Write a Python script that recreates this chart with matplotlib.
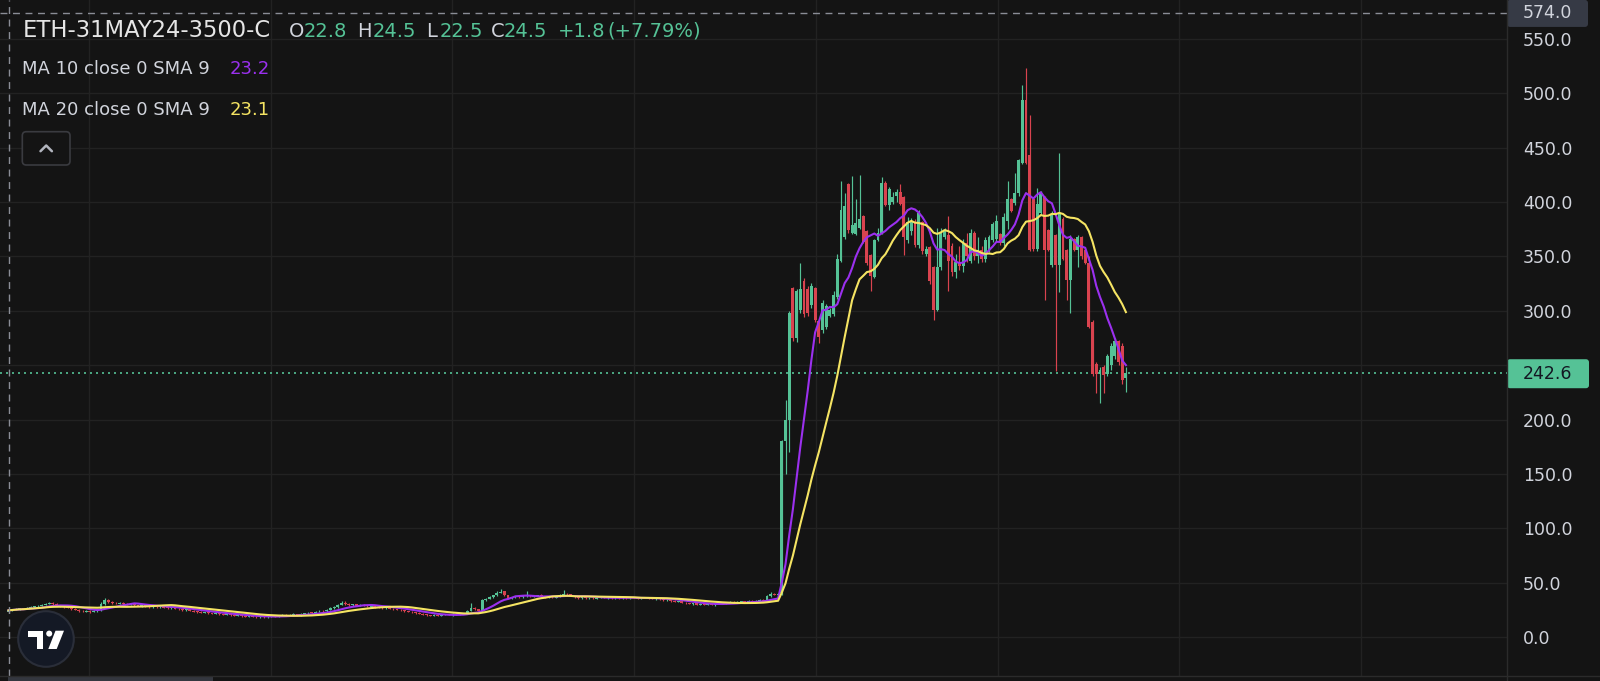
import numpy as np
import pandas as pd
import matplotlib
matplotlib.use("Agg")
import matplotlib.pyplot as plt
from matplotlib.patches import Rectangle, FancyBboxPatch, Circle, Polygon

W, H = 1600, 681

# ---- candles (ETH-31MAY24-3500-C) ----
# quiet stretch before the jump
flat_open = [22.8, 24.4, 25.1, 25.7, 26.3, 26.1, 27.0, 27.6, 28.1, 28.8,
             29.7, 30.3, 31.3, 30.0, 29.1, 28.5, 27.1, 26.9, 25.5, 25.0,
             24.1, 23.4, 24.3, 23.0, 23.7, 24.6, 30.3, 33.9, 32.1, 31.1,
             30.7, 31.6, 30.1, 29.5, 30.2, 29.1, 28.5, 29.0, 27.9, 27.5,
             28.4, 27.3, 27.9, 27.1, 26.5, 27.3, 26.0, 25.5, 24.7, 25.3,
             24.1, 23.5, 23.1, 22.3, 22.9, 21.8, 21.4, 21.9, 20.8, 20.3,
             20.9, 20.0, 19.5, 20.0, 19.1, 18.7, 19.2, 18.4, 18.1, 18.7,
             18.0, 18.8, 19.5, 18.9, 19.9, 20.4, 19.6, 20.6, 21.0, 20.1,
             21.1, 21.7, 22.6, 21.8, 23.5, 24.3, 23.5, 25.2, 26.2, 27.6,
             29.7, 31.7, 30.1, 29.3, 29.9, 28.8, 29.4, 28.5, 28.0, 28.6,
             27.5, 27.2, 26.4, 27.0, 25.9, 25.5, 24.9, 24.7, 23.8, 23.3,
             22.5, 22.1, 21.2, 20.7, 20.0, 19.5, 20.1, 19.4, 20.3, 20.9,
             20.2, 21.1, 20.5, 21.3, 21.5, 24.1, 27.1, 25.4, 24.0, 33.9,
             35.1, 36.7, 38.3, 40.5, 41.9, 38.3, 35.5, 36.5, 37.3, 36.7,
             37.7, 38.2, 37.2, 38.0, 38.5, 36.9, 36.2, 37.0, 36.3, 37.3,
             38.5, 39.9, 39.1, 38.1, 36.5, 35.7, 36.6, 35.5, 36.3, 35.3,
             36.1, 36.8, 35.8, 36.5, 35.7, 36.4, 35.4, 36.2, 35.6, 36.5,
             35.8, 35.1, 35.9, 36.3, 35.3, 34.9, 35.6, 34.5, 33.7, 34.3,
             33.0, 32.3, 32.9, 31.5, 31.1, 30.3, 31.0, 29.7, 30.4, 29.5,
             30.3, 29.4, 30.7, 31.3, 30.7, 31.7, 32.2, 31.4, 32.4, 32.9,
             32.1, 33.2, 32.5, 33.5, 34.1, 33.6, 37.4, 39.7, 38.7]
flat_high = [24.5, 25.6, 26.4, 26.9, 26.8, 27.9, 28.2, 28.6, 29.7, 30.3,
             31.4, 32.0, 31.9, 30.8, 29.7, 29.3, 27.8, 27.5, 26.2, 25.4,
             24.6, 24.8, 24.9, 24.4, 25.2, 31.8, 36.2, 34.6, 32.9, 31.8,
             32.3, 32.2, 30.8, 30.9, 30.7, 29.8, 29.6, 29.5, 28.6, 29.0,
             28.9, 28.5, 28.4, 27.7, 27.9, 27.8, 26.7, 26.1, 25.9, 25.8,
             24.7, 24.0, 23.6, 23.4, 23.5, 22.4, 22.3, 22.4, 21.4, 21.5,
             21.4, 20.6, 20.5, 20.5, 19.7, 19.8, 19.7, 19.0, 19.3, 19.2,
             19.6, 20.1, 20.0, 20.5, 21.0, 20.9, 21.2, 21.6, 21.5, 21.7,
             22.5, 23.2, 23.1, 24.1, 24.9, 24.8, 25.9, 27.2, 28.3, 30.6,
             32.8, 33.2, 30.8, 30.5, 30.4, 30.0, 29.9, 29.1, 29.2, 29.1,
             28.1, 27.7, 27.6, 27.5, 26.5, 26.0, 25.4, 25.2, 24.3, 23.8,
             23.0, 22.6, 21.8, 21.2, 20.6, 20.7, 20.6, 20.9, 21.5, 21.4,
             21.7, 21.6, 21.9, 22.3, 24.8, 31.4, 27.8, 26.0, 34.5, 35.9,
             37.6, 38.9, 42.2, 44.5, 42.4, 38.9, 37.1, 37.8, 37.9, 38.3,
             42.3, 38.8, 38.5, 39.0, 39.1, 37.4, 37.5, 37.5, 37.9, 39.4,
             43.1, 40.5, 39.6, 38.6, 37.0, 37.1, 37.1, 36.8, 36.8, 36.6,
             37.3, 37.3, 37.0, 37.0, 36.9, 36.9, 36.7, 36.7, 37.0, 37.0,
             36.3, 36.4, 36.8, 36.8, 35.9, 36.1, 36.1, 35.0, 34.8, 34.8,
             33.6, 33.4, 33.4, 32.0, 31.6, 31.5, 31.5, 30.9, 30.9, 30.8,
             30.8, 31.2, 31.8, 31.8, 32.2, 32.7, 32.7, 32.9, 33.4, 33.4,
             33.7, 33.7, 34.0, 34.6, 34.6, 38.4, 41.2, 40.3, 40.0]
flat_low = [22.5, 23.9, 24.6, 25.2, 25.5, 25.7, 26.5, 27.1, 27.7, 28.3,
            29.2, 29.9, 29.6, 28.4, 27.9, 26.7, 26.2, 25.1, 24.4, 23.4,
            23.0, 22.9, 22.5, 22.6, 23.2, 24.1, 29.8, 31.4, 30.6, 30.2,
            30.1, 29.7, 29.0, 29.0, 28.6, 28.1, 28.0, 27.4, 27.1, 27.0,
            26.8, 26.8, 26.5, 26.0, 26.0, 25.6, 24.9, 24.3, 24.2, 23.5,
            22.9, 22.5, 21.9, 21.8, 21.4, 21.0, 20.9, 20.4, 19.9, 19.8,
            19.6, 19.1, 19.0, 18.7, 18.3, 18.2, 18.0, 17.6, 17.6, 17.5,
            17.5, 18.3, 18.5, 18.4, 19.4, 19.2, 19.1, 20.1, 19.7, 19.6,
            20.6, 21.2, 21.4, 21.3, 23.0, 23.1, 23.0, 24.7, 25.7, 27.1,
            29.2, 29.6, 28.9, 28.8, 28.4, 28.3, 28.1, 27.6, 27.5, 27.1,
            26.6, 26.0, 25.9, 25.5, 24.9, 24.5, 24.1, 23.4, 22.7, 22.1,
            21.5, 20.8, 20.1, 19.6, 19.1, 19.0, 19.0, 18.9, 19.8, 19.8,
            19.7, 20.1, 20.0, 20.8, 21.0, 23.6, 25.0, 23.5, 22.6, 33.3,
            34.6, 36.2, 37.8, 40.0, 37.9, 35.0, 35.0, 36.0, 36.3, 36.2,
            37.2, 36.8, 36.7, 37.5, 36.4, 35.8, 35.7, 35.9, 35.8, 36.8,
            38.0, 38.7, 37.5, 36.1, 35.3, 35.2, 35.1, 35.0, 34.9, 34.8,
            35.6, 35.4, 35.3, 35.3, 35.2, 35.0, 34.9, 35.2, 35.1, 35.4,
            34.7, 34.6, 35.4, 34.9, 34.5, 34.4, 34.1, 33.2, 33.2, 32.5,
            31.9, 31.8, 31.1, 30.5, 29.9, 29.8, 29.3, 29.2, 29.1, 29.0,
            29.0, 28.9, 30.2, 30.3, 30.2, 31.2, 31.0, 30.9, 31.9, 31.7,
            31.6, 32.1, 32.0, 33.0, 33.0, 33.1, 36.8, 38.3, 38.2]
flat_close = [24.5, 25.0, 25.8, 26.2, 26.0, 27.1, 27.5, 28.0, 28.9, 29.6,
              30.4, 31.2, 30.1, 29.0, 28.4, 27.2, 26.8, 25.6, 24.9, 24.0,
              23.5, 24.2, 23.1, 23.8, 24.5, 30.5, 33.8, 32.0, 31.2, 30.8,
              31.5, 30.2, 29.6, 30.1, 29.2, 28.6, 28.9, 28.0, 27.6, 28.3,
              27.4, 27.8, 27.0, 26.6, 27.2, 26.1, 25.4, 24.8, 25.2, 24.0,
              23.4, 23.0, 22.4, 22.8, 21.9, 21.5, 21.8, 20.9, 20.4, 20.8,
              20.1, 19.6, 19.9, 19.2, 18.8, 19.1, 18.5, 18.2, 18.6, 18.1,
              18.9, 19.4, 19.0, 19.8, 20.3, 19.7, 20.5, 20.9, 20.2, 21.0,
              21.8, 22.5, 21.9, 23.4, 24.2, 23.6, 25.1, 26.3, 27.5, 29.8,
              31.6, 30.2, 29.4, 29.8, 28.9, 29.3, 28.6, 28.1, 28.5, 27.6,
              27.1, 26.5, 26.9, 26.0, 25.4, 25.0, 24.6, 23.9, 23.2, 22.6,
              22.0, 21.3, 20.6, 20.1, 19.6, 20.0, 19.5, 20.2, 20.8, 20.3,
              21.0, 20.6, 21.2, 21.6, 24.0, 27.0, 25.5, 24.1, 33.8, 35.0,
              36.8, 38.2, 40.6, 41.8, 38.4, 35.6, 36.4, 37.2, 36.8, 37.6,
              38.1, 37.3, 37.9, 38.4, 37.0, 36.3, 36.9, 36.4, 37.2, 38.6,
              39.8, 39.2, 38.0, 36.6, 35.8, 36.5, 35.6, 36.2, 35.4, 36.0,
              36.7, 35.9, 36.4, 35.8, 36.3, 35.5, 36.1, 35.7, 36.4, 35.9,
              35.2, 35.8, 36.2, 35.4, 35.0, 35.5, 34.6, 33.8, 34.2, 33.1,
              32.4, 32.8, 31.6, 31.0, 30.4, 30.9, 29.8, 30.3, 29.6, 30.2,
              29.5, 30.6, 31.2, 30.8, 31.6, 32.1, 31.5, 32.3, 32.8, 32.2,
              33.1, 32.6, 33.4, 34.0, 33.5, 37.5, 39.6, 38.8, 39.4]

# the run-up and the top
run_open = [40, 180, 200, 321, 275, 301, 327, 320, 305, 321,
            291, 282, 285, 295, 297, 313, 346, 368, 417, 372,
            371, 376, 387, 373, 351, 331, 365, 372, 418, 397,
            400, 406, 409, 405, 365, 373, 382, 361, 382, 352,
            359, 340, 301, 340, 368, 370, 360, 336, 345, 341,
            362, 346, 372, 350, 356, 348, 356, 365, 366, 371,
            362, 383, 403, 399, 408, 436, 494, 443, 403, 357,
            390, 405, 374, 342, 370, 342, 384, 356, 328, 366,
            356, 368, 356, 344, 290, 251, 242, 248, 242, 250,
            258, 272, 268, 238]
run_high = [181, 218, 300, 322, 320, 344, 330, 323, 326, 322,
            292, 310, 306, 303, 318, 352, 419, 408, 418, 424,
            403, 425, 388, 374, 352, 366, 376, 423, 419, 414,
            409, 412, 417, 406, 386, 385, 384, 393, 383, 360,
            360, 341, 376, 376, 376, 387, 362, 352, 360, 366,
            372, 375, 373, 368, 360, 368, 370, 382, 388, 372,
            390, 419, 404, 427, 440, 508, 523, 480, 404, 413,
            410, 406, 375, 392, 371, 445, 386, 357, 370, 367,
            370, 369, 357, 350, 292, 253, 248, 250, 260, 270,
            275, 273, 270, 248]
run_low = [39, 150, 170, 272, 271, 298, 294, 295, 303, 290,
           270, 280, 283, 294, 295, 311, 345, 366, 372, 371,
           370, 375, 362, 342, 318, 330, 364, 371, 396, 393,
           398, 400, 397, 351, 362, 370, 359, 358, 352, 350,
           325, 292, 300, 338, 366, 318, 332, 330, 338, 336,
           345, 344, 347, 344, 345, 345, 354, 363, 364, 361,
           360, 375, 391, 397, 406, 435, 435, 355, 355, 355,
           388, 310, 355, 340, 245, 317, 347, 310, 298, 355,
           340, 348, 343, 284, 240, 224, 215, 224, 240, 246,
           256, 250, 233, 225]
run_close = [180, 200, 298, 275, 318, 320, 297, 298, 323, 292,
             276, 307, 304, 301, 315, 348, 393, 396, 374, 379,
             381, 384, 363, 344, 332, 365, 372, 418, 397, 412,
             405, 409, 398, 368, 382, 382, 361, 390, 355, 357,
             327, 301, 340, 372, 374, 346, 336, 345, 341, 362,
             350, 372, 350, 356, 348, 365, 368, 380, 383, 362,
             386, 403, 392, 408, 439, 494, 436, 356, 357, 398,
             408, 356, 356, 389, 342, 389, 348, 328, 366, 356,
             368, 350, 344, 285, 242, 242, 246, 241, 258, 268,
             272, 253, 236, 242.6]

price_ticks = [0, 50, 100, 150, 200, 250, 300, 350, 400, 450, 500, 550]
last_price = 242.6
cursor_price = 574.0
title = "ETH-31MAY24-3500-C"
ohlc_keys = ["O", "H", "L", "C"]
ohlc_vals = ["22.8", "24.5", "22.5", "24.5"]
change_txt = ["+1.8", "(+7.79%)"]
ma_labels = ["MA 10 close 0 SMA 9", "MA 20 close 0 SMA 9"]
ma_vals = ["23.2", "23.1"]

opens = np.array(flat_open + run_open, dtype=float)
highs = np.array(flat_high + run_high, dtype=float)
lows = np.array(flat_low + run_low, dtype=float)
closes = np.array(flat_close + run_close, dtype=float)

# colours
BG = "#141414"
GRID = "#222222"
UP = "#55c296"
DOWN = "#d9434f"
PURPLE = "#9b30ef"
YELLOW = "#f5e463"
TXT = "#d1d4dc"

plt.rcParams["font.family"] = "DejaVu Sans"

fig = plt.figure(figsize=(W / 100, H / 100), dpi=100, facecolor=BG)
plot_right = 1507
plot_bottom = 676
ax = fig.add_axes([0, (H - plot_bottom) / H, plot_right / W, plot_bottom / H])
ax.set_facecolor(BG)

px_per_bar = 3.70
first_px = 8.5
ax.set_xlim(-first_px / px_per_bar, (plot_right - first_px) / px_per_bar)
ax.set_ylim(-35.9, 585.9)

# grid
for v in price_ticks:
    ax.axhline(v, color=GRID, lw=1, zorder=0)
g0 = (89 - first_px) / px_per_bar
for k in range(8):
    ax.axvline(g0 + k * 181.7 / px_per_bar, color=GRID, lw=1, zorder=0)

idx = np.arange(len(closes))
up = closes >= opens
col = np.where(up, UP, DOWN)
ax.vlines(idx, lows, highs, colors=col, lw=0.85, zorder=3)
body_lo = np.minimum(opens, closes)
body_h = np.maximum(np.abs(closes - opens), 0.6)
ax.bar(idx, body_h, bottom=body_lo, width=0.8, color=col, lw=0, zorder=3)

s = pd.Series(closes)
ax.plot(idx, s.rolling(10, min_periods=1).mean(), color=PURPLE, lw=1.5, zorder=4)
ax.plot(idx, s.rolling(20, min_periods=1).mean(), color=YELLOW, lw=1.5, zorder=4)

# last price + crosshair
ax.axhline(last_price, color=UP, lw=1.2, ls=(0, (1.2, 2.4)), zorder=2)
ax.axhline(cursor_price, color="#8a8d96", lw=1, ls=(0, (5, 4)), zorder=5)
ax.axvline(0, color="#8a8d96", lw=1, ls=(0, (5, 4)), zorder=5)

# 250.0 sits under the last-price tag, so it is left blank
ax.yaxis.tick_right()
ax.set_yticks(price_ticks)
ax.set_yticklabels(["" if v == 250 else f"{v:.1f}" for v in price_ticks])
ax.tick_params(axis="y", length=0, pad=11.5, labelsize=12.5, labelcolor=TXT)
ax.set_xticks([])
for sp in ax.spines.values():
    sp.set_visible(False)


def ypx(v):
    return H - ax.transData.transform((0, v))[1]


# overlay in pixel coordinates
ov = fig.add_axes([0, 0, 1, 1], zorder=5)
ov.set_xlim(0, W)
ov.set_ylim(H, 0)
ov.axis("off")
ov.patch.set_alpha(0)

ov.plot([plot_right, plot_right], [0, H], color="#2b2b2b", lw=1)
ov.plot([0, W], [plot_bottom, plot_bottom], color="#2b2b2b", lw=1)
ov.add_patch(Rectangle((8, plot_bottom + 0.5), 205, 5, color="#34373f", lw=0))

# price boxes
yc = ypx(cursor_price)
ov.add_patch(FancyBboxPatch((plot_right, yc - 13), 81, 27,
                            boxstyle="round,pad=0,rounding_size=3",
                            fc="#363a45", ec="none"))
ov.text(1523, yc + 0.5, f"{cursor_price:.1f}", color=TXT, fontsize=12.5,
        va="center", ha="left")
yl = ypx(last_price)
ov.add_patch(FancyBboxPatch((plot_right, yl - 14), 82, 29,
                            boxstyle="round,pad=0,rounding_size=3",
                            fc=UP, ec="none"))
ov.text(1523, yl + 0.5, f"{last_price:.1f}", color="#131722", fontsize=12.5,
        va="center", ha="left")

# legend lines
ov.text(22.3, 36.7, title, color="#e6e6e6", fontsize=16.3, va="baseline")
key_x = [289, 357, 426, 491]
val_x = [303.6, 373, 440, 504]
for kx, vx, k, v in zip(key_x, val_x, ohlc_keys, ohlc_vals):
    ov.text(kx, 36.7, k, color=TXT, fontsize=14, va="baseline")
    ov.text(vx, 36.7, v, color=UP, fontsize=14, va="baseline")
ov.text(558, 36.7, change_txt[0], color=UP, fontsize=14, va="baseline")
ov.text(607, 36.7, change_txt[1], color=UP, fontsize=14, va="baseline")

for base, lab, val, c in zip([74, 115], ma_labels, ma_vals, [PURPLE, YELLOW]):
    ov.text(22.3, base, lab, color=TXT, fontsize=13, va="baseline")
    ov.text(230, base, val, color=c, fontsize=13, va="baseline")

# collapse button
ov.add_patch(FancyBboxPatch((22.3, 131.7), 47.7, 33.3,
                            boxstyle="round,pad=0,rounding_size=4",
                            fc=BG, ec="#3a3b40", lw=1.2))
ov.plot([40.5, 46.2, 51.9], [151.2, 145.5, 151.2], color="#b2b5be", lw=1.8,
        solid_capstyle="round")

# TradingView badge
ov.add_patch(Circle((46, 639), 27.8, fc="#141925", ec="#2a2e39", lw=1.5))
ov.add_patch(Polygon([(28.3, 630.7), (43.3, 630.7), (43.3, 649), (36.7, 649),
                      (36.7, 636.7), (28.3, 636.7)], closed=True, fc="white", ec="none"))
ov.add_patch(Circle((49.2, 633.6), 3.0, fc="white", ec="none"))
ov.add_patch(Polygon([(55.5, 630.7), (64, 630.7), (56.7, 649), (48.3, 649)],
                     closed=True, fc="white", ec="none"))

fig.savefig("out.png", dpi=100, facecolor=BG)
